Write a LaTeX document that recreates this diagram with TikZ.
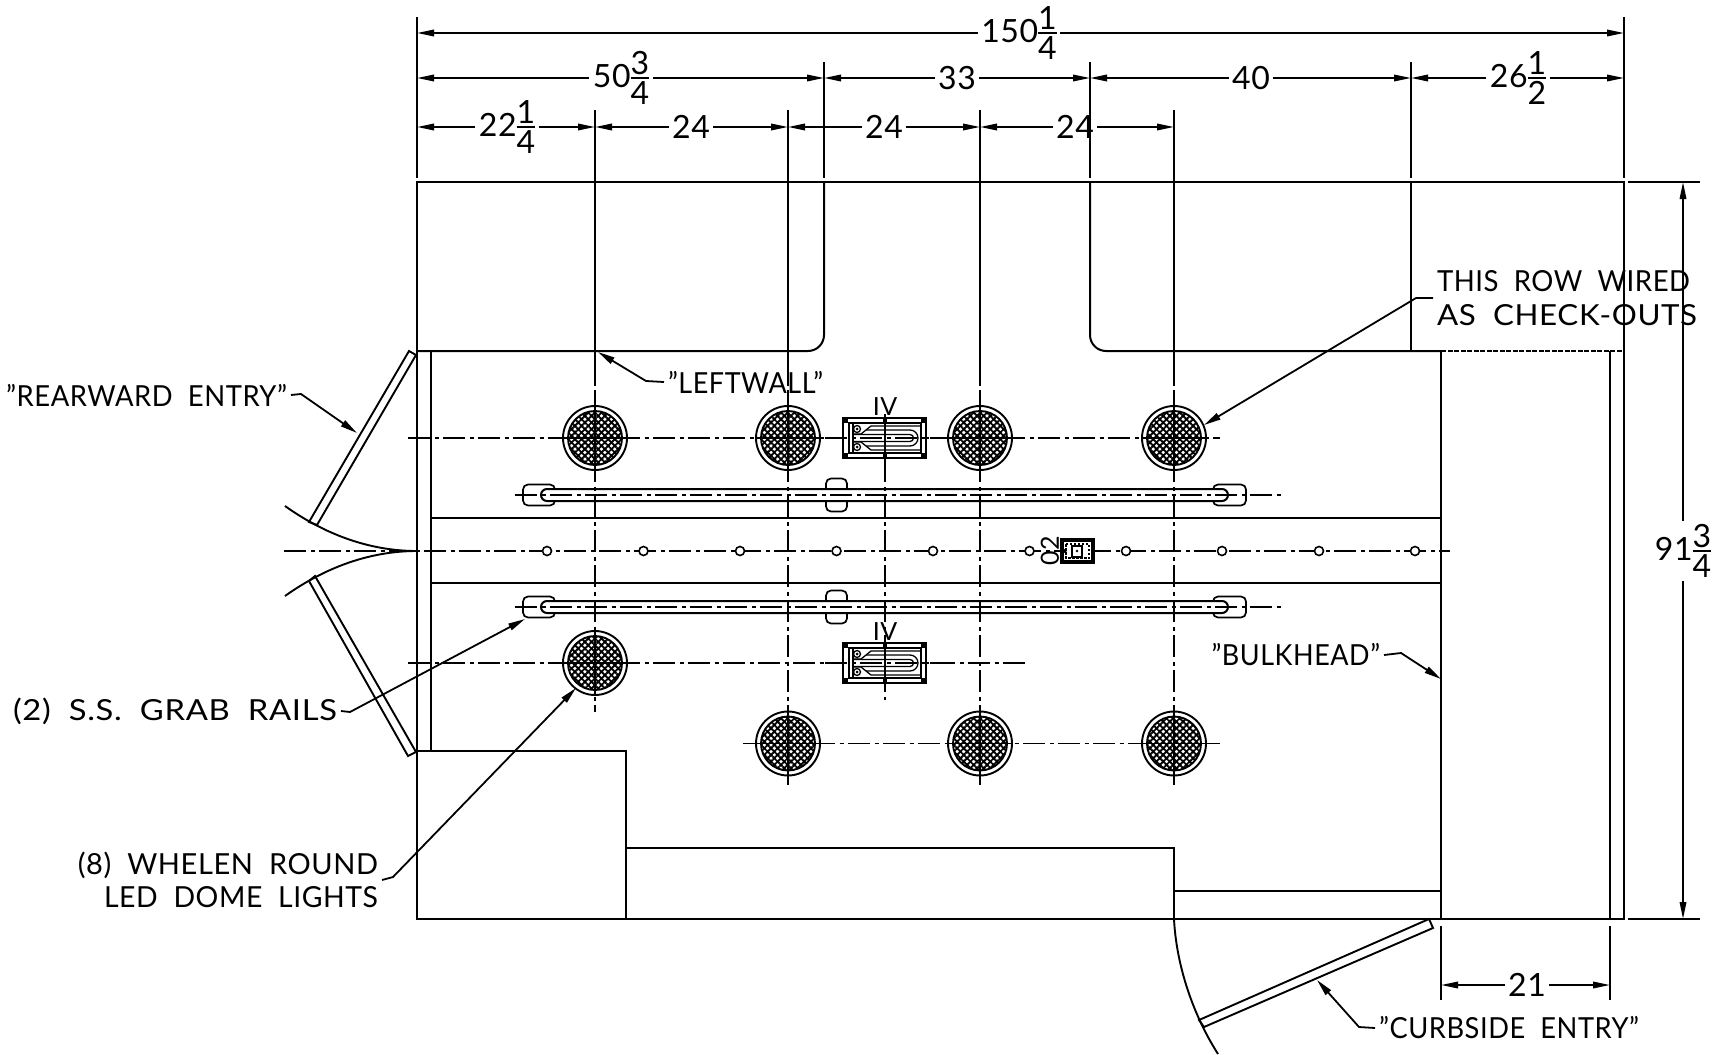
\documentclass[tikz,border=0pt]{standalone}
\usepackage{fontspec}
\usepackage{amsmath}
\usetikzlibrary{arrows.meta,patterns.meta}
\setmainfont{Lato}[LetterSpace=2,WordSpace=2]
\newcommand{\fr}[2]{\raisebox{3.5pt}{\ensuremath{\vcenter{\offinterlineskip\ialign{\hfil##\hfil\cr\mbox{#1}\cr\noalign{\kern2.5pt\hrule height 1.8pt\kern2.5pt}\mbox{#2}\cr}}}}}
\newcommand{\sx}[2]{\scalebox{#1}[1]{#2}}

\begin{document}
\begin{tikzpicture}[x=1pt,y=-1pt,line width=2pt,%
        txt/.style={inner sep=3pt,font=\fontsize{29}{33.5}\selectfont},
        dimtxt/.style={inner sep=2.5pt,font=\fontsize{32}{36}\selectfont},
        small/.style={inner sep=0pt,font=\fontsize{25}{26}\selectfont},
        dimline/.style={-{Triangle[length=17pt,width=6.5pt]},line width=1.8pt},
        leader/.style={-{Triangle[length=17pt,width=7pt]},line width=1.8pt},
        cline/.style={line width=1.9pt,dash pattern=on 22pt off 4.5pt on 4pt off 4.5pt},
        ring/.style={circle,draw,fill=white,inner sep=0pt,minimum size=64pt,line width=1.9pt},
        core/.style={circle,draw,inner sep=0pt,minimum size=54pt,line width=1.9pt,
                pattern={Lines[angle=45,distance=4.7pt,line width=1.9pt]},
                postaction={pattern={Lines[angle=-45,distance=4.7pt,line width=1.9pt]}}},
        hole/.style={circle,draw,fill=white,inner sep=0pt,minimum size=9pt,line width=1.6pt},
        door/.style={line width=1.9pt},
        lug/.style={rounded corners=5pt,line width=1.7pt}]
\useasboundingbox (0,0) rectangle (1712,1054);

% room outline
\draw (417,182) rectangle (1624,919);
\draw[rounded corners=16pt] (824,182) -- (824,351) -- (417,351);
\draw[rounded corners=16pt] (1090,182) -- (1090,351) -- (1441,351);
\draw[line width=1.6pt,dash pattern=on 5pt off 1.5pt] (1441,351) -- (1624,351);
\draw (1411,182) -- (1411,351);
\draw (431,351) -- (431,751);
\draw (431,518) -- (1441,518);
\draw (431,583) -- (1441,583);
\draw (417,751) -- (626,751) -- (626,919);
\draw (626,848) -- (1174,848) -- (1174,919);
\draw (1174,891) -- (1441,891);
\draw (1441,351) -- (1441,919);
\draw (1610,351) -- (1610,919);

% doors
\draw[door] (409,351) -- (416,355) -- (317,525) -- (309,522) -- cycle;
\draw[door] (309,581) -- (315,576) -- (416,752) -- (408,756) -- cycle;
\draw[door] (1429,919) -- (1433,928) -- (1204,1027) -- (1199,1020) -- cycle;
\draw[door] (285,506) .. controls (330,538) and (375,551) .. (417,551);
\draw[door] (285,596) .. controls (330,564) and (375,551) .. (417,551);
\draw[door] (1174,919) .. controls (1176,960) and (1190,1010) .. (1218,1054);

% grab rails
\foreach \y in {495,607} {
    \draw[lug] (523,\y-10.5) rectangle (555,\y+10.5);
    \draw[lug] (1213,\y-10.5) rectangle (1246,\y+10.5);
    \draw[lug] (826,\y-16.5) rectangle (847,\y+16.5);
    \draw[rounded corners=6pt,fill=white] (541,\y-6) rectangle (1228,\y+6);
}

% centre lines
\draw[cline] (284,551) -- (1450,551);
\draw[cline] (408,438) -- (1220,438);
\draw[cline] (515,495) -- (1283,495);
\draw[cline] (515,607) -- (1283,607);
\draw[cline] (408,663) -- (1027,663);
\draw[cline] (743,743.5) -- (1220,743.5);
\draw[cline] (885,425) -- (885,700);
\foreach \x/\yend in {595/712,788/785,980/785,1174/785} {
    \draw (\x,110) -- (\x,386);
    \draw[cline] (\x,390) -- (\x,\yend);
}

% lights
\foreach \name/\x/\y in {la/595/438,lb/788/438,lc/980/438,ld/1174/438,%
        le/595/663,lf/788/743.5,lg/980/743.5,lh/1174/743.5} {
    \node[ring] (\name) at (\x,\y) {};
    \node[core] (\name c) at (\x,\y) {};
    \draw[line width=1.8pt] (\x,\y-32) -- (\x,\y+32) (\x-32,\y) -- (\x+32,\y);
}

% ceiling holes
\foreach \n/\x in {1/547,2/643.5,3/740,4/836.5,5/933,6/1029.5,7/1126,8/1222,9/1319,10/1415}
    \node[hole] (h\n) at (\x,551) {};

% fixtures
\foreach \y/\name in {438/fa,663/fb} {
    \node[small] (\name) at (885,\y-31) {IV};
    \begin{scope}[shift={(885,\y)},line width=1.3pt]
        \draw[line width=1.9pt,fill=white] (-42,-20) rectangle (41,20);
        \draw (-36,-15) rectangle (36,15);
        \draw (-32,-15) -- (-32,15);
        \foreach \sx/\sy in {-39/-17,38/-17,-39/17,38/17,0/-17,0/17}
            \fill (\sx-2,\sy-2) rectangle (\sx+2,\sy+2);
        \draw (-28,-9) circle (3.5);
        \draw (-28,9) circle (3.5);
        \fill (-28,-9) circle (1.5);
        \fill (-28,9) circle (1.5);
        \draw (36,-12) -- (-14,-12) -- (-19,-8) (36,12) -- (-14,12) -- (-19,8);
        \draw (-19,-8) -- (25,-8) arc (-90:90:8) -- (-19,8);
        \draw (-19,-8) -- (-24,-4) -- (-31,-4);
        \draw (-19,8) -- (-24,4) -- (-31,4);
        \draw (-31,-3.5) -- (25,-3.5) arc (-90:90:3.5) -- (-31,3.5);
        \draw[cline] (-60,0) -- (60,0);
        \draw[line width=1.9pt] (0,-24) -- (0,24);
    \end{scope}
}

% box on the centre line
\draw[line width=3.2pt,fill=white] (1062,540) rectangle (1093,562);
\draw[line width=1.1pt,dash pattern=on 2.5pt off 1.5pt] (1066,544) rectangle (1089,558);
\draw[line width=1.6pt] (1072,546) rectangle (1082,557);
\fill (1077,551) circle (1.3);
\fill (1062,547.5) -- (1067,551) -- (1062,554.5) -- cycle;
\node[small,rotate=90] (sw) at (1050,551) {02};

% dimension extensions
\draw (417,17) -- (417,178) (1624,17) -- (1624,178);
\draw (824,62) -- (824,178) (1090,62) -- (1090,178) (1411,62) -- (1411,178);
\draw (1441,926) -- (1441,1000) (1610,926) -- (1610,1000);
\draw (1628,182) -- (1700,182) (1628,919) -- (1700,919);

% dimensions
\foreach \name/\xa/\xb/\xt/\yd/\val in {%
        da/417/1624/1019/33/{150\fr{1}{4}},
        db/417/824/621/78/{50\fr{3}{4}},
        dc/824/1090/957/78/{33},
        dd/1090/1411/1251/78/{40},
        de/1411/1624/1518/78/{26\fr{1}{2}},
        df/417/595/507/127/{22\fr{1}{4}},
        dg/595/788/691/127/{24},
        dh/788/980/884/127/{24},
        di/980/1174/1075/127/{24},
        dj/1441/1610/1527/985/{21}} {
    \node[dimtxt] (\name) at (\xt,\yd) {\val};
    \coordinate (\name a) at (\xa,\yd);
    \coordinate (\name b) at (\xb,\yd);
    \draw[dimline] (\name) -- (\name a);
    \draw[dimline] (\name) -- (\name b);
}
\node[dimtxt] (dk) at (1683,551) {91\fr{3}{4}};
\coordinate (dka) at (1683,182);
\coordinate (dkb) at (1683,919);
\draw[dimline] (dk) -- (dka);
\draw[dimline] (dk) -- (dkb);

% notes
\node[txt,anchor=east] (rear) at (291,395) {\sx{.945}{"REARWARD ENTRY"}};
\coordinate (rearm) at (301,394);
\coordinate (reart) at (357,433);
\draw[leader] (rear.east) -- (rearm) -- (reart);

\node[txt,anchor=west] (wall) at (664,382) {\sx{.93}{"LEFTWALL"}};
\coordinate (wallm) at (646,381);
\coordinate (wallt) at (598,352);
\draw[leader] (wall.west) -- (wallm) -- (wallt);

\node[txt,anchor=east] (rails) at (341,711) {\sx{1.13}{(2) S.S. GRAB RAILS}};
\coordinate (railsm) at (350,712);
\coordinate (railst) at (525,619);
\draw[leader] (rails.east) -- (railsm) -- (railst);

\node[txt,anchor=east,align=right] (domes) at (382,880) {\sx{1}{(8) WHELEN ROUND}\\\sx{.98}{LED DOME LIGHTS}};
\coordinate (domesm) at (393,877);
\coordinate (domest) at (576,688);
\draw[leader] (domes.east) -- (domesm) -- (domest);

\node[txt,anchor=west,align=left] (row) at (1433,298) {\sx{.95}{THIS ROW WIRED}\\\sx{1.08}{AS CHECK-OUTS}};
\coordinate (rowm) at (1416,298);
\coordinate (rowt) at (1204,425);
\draw[leader] (row.west) -- (rowm) -- (rowt);

\node[txt,anchor=east] (bulk) at (1384,655) {\sx{.93}{"BULKHEAD"}};
\coordinate (bulkm) at (1401,653);
\coordinate (bulkt) at (1441,679);
\draw[leader] (bulk.east) -- (bulkm) -- (bulkt);

\node[txt,anchor=west] (curb) at (1375,1028) {\sx{.94}{"CURBSIDE ENTRY"}};
\coordinate (curbm) at (1359,1027);
\coordinate (curbt) at (1317,980);
\draw[leader] (curb.west) -- (curbm) -- (curbt);
\end{tikzpicture}
\end{document}
